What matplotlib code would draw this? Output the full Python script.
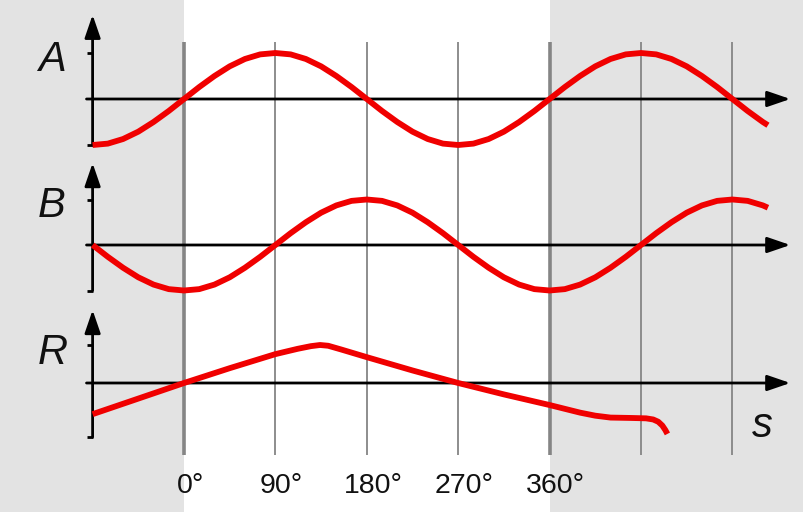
import numpy as np
import matplotlib
matplotlib.use('Agg')
from matplotlib import pyplot as plt

# angle samples (degrees) for the A and B curves
deg = [-90, -75, -60, -45, -30, -15, 0, 15, 30, 45, 60, 75, 90, 105, 120, 135, 150, 165,
       180, 195, 210, 225, 240, 255, 270, 285, 300, 315, 330, 345, 360, 375, 390, 405,
       420, 435, 450, 465, 480, 495, 510, 525, 540, 555, 570, 575]
a_vals = [-1.00, -0.97, -0.87, -0.71, -0.50, -0.26, 0.00, 0.26, 0.50, 0.71, 0.87, 0.97,
          1.00, 0.97, 0.87, 0.71, 0.50, 0.26, 0.00, -0.26, -0.50, -0.71, -0.87, -0.97,
          -1.00, -0.97, -0.87, -0.71, -0.50, -0.26, 0.00, 0.26, 0.50, 0.71, 0.87, 0.97,
          1.00, 0.97, 0.87, 0.71, 0.50, 0.26, 0.00, -0.26, -0.50, -0.57]
b_vals = [0.00, -0.26, -0.50, -0.71, -0.87, -0.97, -1.00, -0.97, -0.87, -0.71, -0.50, -0.26,
          0.00, 0.26, 0.50, 0.71, 0.87, 0.97, 1.00, 0.97, 0.87, 0.71, 0.50, 0.26,
          0.00, -0.26, -0.50, -0.71, -0.87, -0.97, -1.00, -0.97, -0.87, -0.71, -0.50, -0.26,
          0.00, 0.26, 0.50, 0.71, 0.87, 0.97, 1.00, 0.97, 0.87, 0.82]

# R curve
r_deg = [-90, 0, 45, 90, 112, 125, 134, 142, 155, 180, 225, 270, 315, 360, 375, 390,
         405, 420, 440, 455, 462, 467, 471, 474, 476]
r_vals = [-0.82, 0.00, 0.39, 0.76, 0.90, 0.97, 1.00, 0.98, 0.88, 0.68, 0.33, 0.00,
          -0.30, -0.58, -0.68, -0.78, -0.86, -0.91, -0.92, -0.93, -0.96, -1.02, -1.12,
          -1.24, -1.34]

grid_deg = [0, 90, 180, 270, 360, 450, 540]
tick_labels = ['0°', '90°', '180°', '270°', '360°']

W, H = 804, 512
px_per_deg = 91.4 / 90
x0_px = 184
xlim = (-x0_px / px_per_deg, (W - x0_px) / px_per_deg)

red = '#f00000'
grid_col = '#858585'
bg_gray = '#e3e3e3'
font = ['Liberation Sans', 'DejaVu Sans']

fig = plt.figure(figsize=(W / 100, H / 100), dpi=100)

# background: shading, grid lines, degree labels
bg = fig.add_axes([0, 0, 1, 1])
bg.set_xlim(xlim)
bg.set_ylim(0, 1)
bg.axis('off')
bg.axvspan(xlim[0], 0, color=bg_gray, lw=0)
bg.axvspan(0, 360, color='white', lw=0)
bg.axvspan(360, xlim[1], color=bg_gray, lw=0)
for g in grid_deg:
    lw = 2.6 if g in (0, 360) else 1.3
    bg.vlines(g, 1 - 455 / H, 1 - 42 / H, color=grid_col, lw=lw)
for g, lab in zip(grid_deg, tick_labels):
    bg.text(g + 6, 1 - 493 / H, lab, ha='center', va='baseline', fontsize=20.5,
            family=font, color='#111111')


def panel(zero_px, unit_px, top_px, bot_px):
    ax = fig.add_axes([0, 1 - bot_px / H, 1, (bot_px - top_px) / H])
    ax.set_xlim(xlim)
    ax.set_ylim((zero_px - bot_px) / unit_px, (zero_px - top_px) / unit_px)
    ax.axis('off')
    ax.patch.set_alpha(0)
    return ax


def axes_arrows(ax, bottom, tip, ticks):
    arrow = dict(arrowstyle='-|>,head_length=0.7,head_width=0.24', color='black',
                 lw=2.0, mutation_scale=20, shrinkA=0, shrinkB=0)
    ax.annotate('', xy=(597, 0), xytext=(-96, 0), arrowprops=arrow)
    ax.annotate('', xy=(-90, tip), xytext=(-90, bottom), arrowprops=arrow)
    ax.hlines(ticks, -96, -90, color='black', lw=2.0)


line_kw = dict(color=red, lw=4.2, solid_capstyle='butt', solid_joinstyle='round', zorder=3)

# A
axA = panel(99, 46, 5, 155)
axes_arrows(axA, -1.0, 1.83, [1.0, -1.0])
axA.plot(deg, a_vals, **line_kw)

# B
axB = panel(245, 45.5, 155, 300)
axes_arrows(axB, -1.0, 1.80, [1.0, -1.0])
axB.plot(deg, b_vals, **line_kw)

# R
axR = panel(383, 38, 300, 445)
axes_arrows(axR, -1.42, 1.92, [1.0, -1.42])
axR.plot(r_deg, r_vals, **line_kw)

# letters
for lab, xpx, ypx in [('A', 52, 71), ('B', 52, 217), ('R', 53, 364), ('s', 762, 437)]:
    bg.text((xpx - x0_px) / px_per_deg, 1 - ypx / H, lab, ha='center', va='baseline',
            fontsize=30, style='italic', family=font, color='#111111')

fig.savefig('out.png', dpi=100)
